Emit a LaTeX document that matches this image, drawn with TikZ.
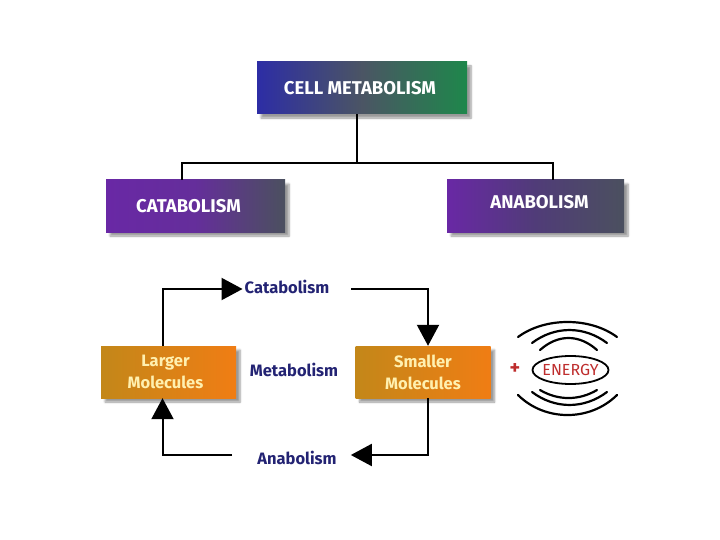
\documentclass[tikz,border=0pt]{standalone}
\usepackage{fontspec}
\setmainfont{Fira Sans}
\usetikzlibrary{arrows.meta,shadows.blur}

\definecolor{navytext}{RGB}{35,35,115}
\definecolor{energyred}{RGB}{190,45,45}
\definecolor{cellblue}{RGB}{45,45,165}
\definecolor{cellgray}{RGB}{75,85,100}
\definecolor{cellgreen}{RGB}{30,135,75}
\definecolor{purpleA}{RGB}{105,40,165}
\definecolor{purpleB}{RGB}{80,60,120}
\definecolor{purpleC}{RGB}{75,80,95}
\definecolor{goldA}{RGB}{195,135,25}
\definecolor{orangeB}{RGB}{240,125,20}
\definecolor{creamtext}{RGB}{255,240,175}

\begin{document}
\begin{tikzpicture}[
  x=1pt, y=-1pt,
  box/.style={rectangle, minimum height=52pt, text=white,
    blur shadow={shadow xshift=4pt, shadow yshift=-4pt, shadow blur steps=6},
    font=\bfseries\fontsize{18.5}{20}\selectfont},
  molbox/.style={box, minimum width=135pt, left color=goldA, right color=orangeB,
    text=creamtext, align=center, font=\bfseries\fontsize{16.5}{22}\selectfont},
  lbl/.style={text=navytext, font=\bfseries\fontsize{16.5}{18}\selectfont, inner sep=0pt},
  tree/.style={line width=2pt},
  flow/.style={line width=2pt, -{Triangle[length=21pt,width=22pt]}},
  wave/.style={line width=2.2pt, line cap=round}
]

  % Fondo y margenes
  \useasboundingbox (0,0) rectangle (720,540);

  % Jerarquia superior
  \node[box, minimum width=210pt, left color=cellblue, right color=cellgreen, middle color=cellgray] (cell) at (362,88) {\hspace*{-4pt}CELL METABOLISM};
  \node[box, minimum width=179pt, left color=purpleA, right color=purpleC, middle color=purpleA!85!purpleC] (catabox) at (195.5,206) {\hspace*{-14pt}CATABOLISM};
  \node[box, minimum width=177pt, left color=purpleA, right color=purpleC, middle color=purpleB, text depth=8pt] (anabox) at (535.5,206) {\hspace*{8pt}ANABOLISM};

  % Lineas del arbol
  \draw[tree] ([xshift=-5pt]cell.south) -- ++(0,49) coordinate (split);
  \draw[tree] (split) -| ([xshift=-14pt]catabox.north);
  \draw[tree] (split) -| ([xshift=17pt]anabox.north);

  % Ciclo del metabolismo
  \node[molbox] (larger) at (168.5,372) {\hspace*{-6pt}Larger\\\hspace*{-6pt}Molecules};
  \node[molbox] (smaller) at (423,372) {Smaller\\Molecules};
  \node[lbl] (metab) at (294,370) {Metabolism};
  \node[lbl] (catab) at (287,287) {Catabolism};
  \node[lbl] (anab) at (297,458) {Anabolism};

  % Flechas del ciclo
  \draw[flow] ([xshift=-6pt]larger.north) |- ([xshift=-2pt,yshift=-2pt]catab.west);
  \draw[flow] ([xshift=22pt,yshift=-2pt]catab.east) -| ([xshift=5pt]smaller.north);
  \draw[flow] ([xshift=5pt]smaller.south) |- ([xshift=14pt,yshift=3pt]anab.east);
  \draw[flow] ([xshift=-25pt,yshift=3pt]anab.west) -| ([xshift=-6pt]larger.south);

  % Energia
  \node[text=energyred, font=\bfseries\fontsize{20}{22}\selectfont] (plus) at (515,369) {+};
  \node[text=energyred, inner sep=0pt, font=\fontsize{16}{18}\selectfont] (energy) at (570.5,370) {ENERGY};
  \draw[line width=1.8pt] (energy.center) ellipse (38 and 14);

  % Ondas alrededor de la energia
  \draw[wave] (518,337) .. controls (545,317) and (590,317) .. (617,337);
  \draw[wave] (532,343) .. controls (555,325.7) and (584,325.7) .. (607,343);
  \draw[wave] (540,350) .. controls (558,334) and (579,334) .. (597,350);
  \draw[wave] (540,390) .. controls (558,400.7) and (579,400.7) .. (597,390);
  \draw[wave] (532,392) .. controls (555,409.3) and (584,409.3) .. (607,392);
  \draw[wave] (518,395) .. controls (545,421.7) and (590,421.7) .. (617,395);

\end{tikzpicture}
\end{document}
